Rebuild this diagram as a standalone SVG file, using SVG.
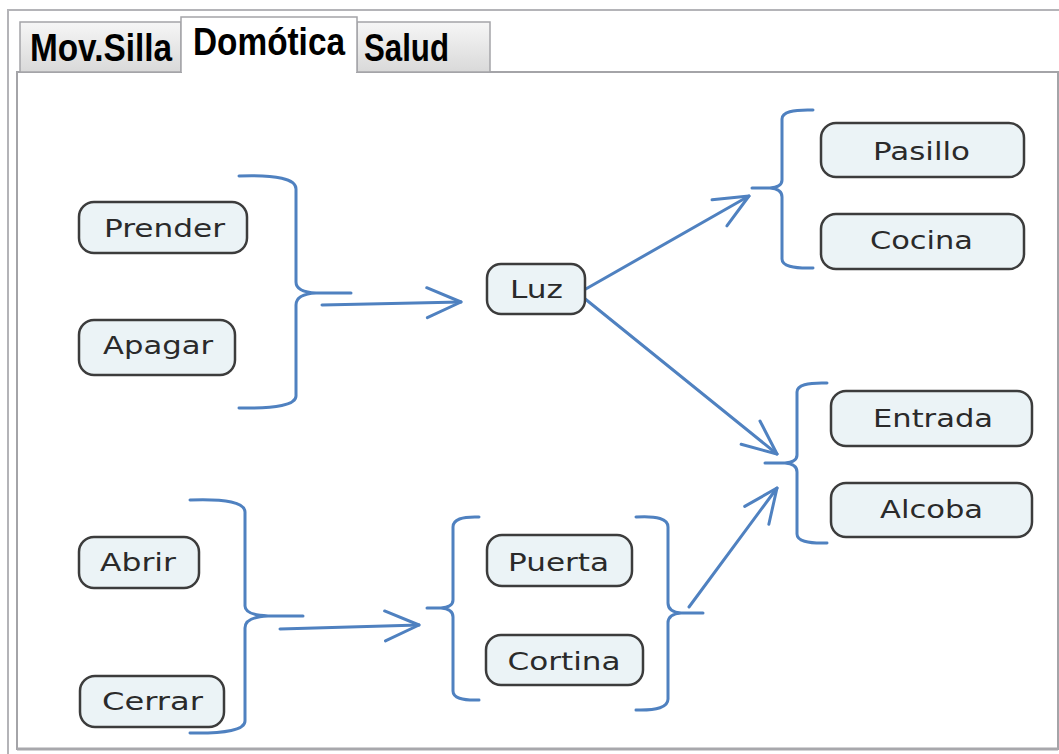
<svg xmlns="http://www.w3.org/2000/svg" width="1059" height="754" viewBox="0 0 1059 754">
<defs>
<linearGradient id="tabg" x1="0" y1="0" x2="0" y2="1">
<stop offset="0" stop-color="#f6f6f6"/>
<stop offset="1" stop-color="#d9d9d9"/>
</linearGradient>
<marker id="ah" markerUnits="userSpaceOnUse" markerWidth="50" markerHeight="40" viewBox="-40 -20 50 40" refX="0" refY="0" orient="auto">
<path d="M-34,-15 L0,0 L-34,15" fill="none" stroke="#4f81c0" stroke-width="3" stroke-linecap="round" stroke-linejoin="round"/>
</marker>
<style>
.frame{fill:none;stroke:#b4b4b8;stroke-width:2}
.tab{fill:url(#tabg);stroke:#a4a4a8;stroke-width:1.5}
.tabtxt{font-family:"Liberation Sans",Arial,sans-serif;font-weight:bold;font-size:39px;fill:#000}
.node rect{fill:#ebf3f6;stroke:#3c3c3c;stroke-width:2.5}
.node text{font-family:"DejaVu Sans",Verdana,sans-serif;font-size:24px;fill:#2a2a2a;text-anchor:middle}
.br{fill:none;stroke:#4f81c0;stroke-width:3;stroke-linecap:round;stroke-linejoin:round}
.arr{fill:none;stroke:#4f81c0;stroke-width:3;stroke-linecap:round;marker-end:url(#ah)}
</style>
</defs>
<rect width="1059" height="754" fill="#ffffff"/>
<g id="window">
<path class="frame" d="M8,754 L8,10 L1059,10"/>
<rect x="17" y="72" width="1041" height="677" fill="#ffffff" stroke="#a4a4a8" stroke-width="2"/>
<line x1="17" y1="749" x2="1058" y2="749" stroke="#a8a8ac" stroke-width="3"/>
</g>
<g id="tabs">
<rect class="tab" x="20" y="22" width="161" height="50"/>
<rect class="tab" x="357" y="22" width="133" height="50"/>
<path d="M181,72 L181,17 L357,17 L357,72" fill="#ffffff" stroke="#a4a4a8" stroke-width="1.5"/>
<line x1="182" y1="72.5" x2="356" y2="72.5" stroke="#ffffff" stroke-width="2"/>
<text class="tabtxt" x="30" y="61" textLength="142" lengthAdjust="spacingAndGlyphs">Mov.Silla</text>
<text class="tabtxt" x="193" y="55" textLength="152" lengthAdjust="spacingAndGlyphs">Domótica</text>
<text class="tabtxt" x="364" y="61" textLength="85" lengthAdjust="spacingAndGlyphs">Salud</text>
</g>
<g id="connectors">
<path class="br" d="M239,176 Q296,174 296,189 L296,282 Q296,292 316,293 L351,293 M316,293 Q296,294 296,305 L296,396 Q296,409 239,408"/>
<path class="arr" d="M322,305 L461,302"/>
<path class="br" d="M190,500 Q245,498 245,512 L245,606 Q245,615 268,616 L303,616 M268,616 Q245,617 245,628 L245,721 Q245,734 190,733"/>
<path class="arr" d="M280,629 L419,625"/>
<path class="br" d="M479,517 Q453,516 453,527 L453,600 Q453,607 441,608 L427,608 M441,608 Q453,609 453,617 L453,691 Q453,701 479,700"/>
<path class="br" d="M636,517 Q668,515 668,527 L668,603 Q668,612 681,613 L703,613 M681,613 Q668,614 668,623 L668,699 Q668,711 636,710"/>
<path class="arr" d="M689,607 L777,488"/>
<path class="br" d="M813,110 Q782,109 782,119 L782,180 Q782,187 770,188 L752,188 M770,188 Q782,189 782,197 L782,259 Q782,269 813,268"/>
<path class="br" d="M827,383 Q797,382 797,392 L797,455 Q797,462 785,463 L765,463 M785,463 Q797,464 797,472 L797,534 Q797,544 827,543"/>
<path class="arr" d="M584,290 L749,196"/>
<path class="arr" d="M584,298 L777,454"/>
</g>
<g id="n-prender" class="node"><rect x="79" y="202" width="168" height="51" rx="15"/><text x="164.5" y="237" textLength="121" lengthAdjust="spacingAndGlyphs">Prender</text></g>
<g id="n-apagar" class="node"><rect x="79" y="320" width="156" height="55" rx="15"/><text x="158" y="354" textLength="110" lengthAdjust="spacingAndGlyphs">Apagar</text></g>
<g id="n-luz" class="node"><rect x="487" y="264" width="98" height="50" rx="14"/><text x="536.5" y="298" textLength="53" lengthAdjust="spacingAndGlyphs">Luz</text></g>
<g id="n-pasillo" class="node"><rect x="821" y="123" width="203" height="54" rx="15"/><text x="921.5" y="160" textLength="97" lengthAdjust="spacingAndGlyphs">Pasillo</text></g>
<g id="n-cocina" class="node"><rect x="821" y="214" width="203" height="55" rx="15"/><text x="921.5" y="249" textLength="103" lengthAdjust="spacingAndGlyphs">Cocina</text></g>
<g id="n-entrada" class="node"><rect x="831" y="391" width="201" height="55" rx="15"/><text x="933" y="427" textLength="120" lengthAdjust="spacingAndGlyphs">Entrada</text></g>
<g id="n-alcoba" class="node"><rect x="831" y="483" width="201" height="54" rx="15"/><text x="931.5" y="518" textLength="103" lengthAdjust="spacingAndGlyphs">Alcoba</text></g>
<g id="n-abrir" class="node"><rect x="79" y="537" width="120" height="51" rx="15"/><text x="138" y="571" textLength="76" lengthAdjust="spacingAndGlyphs">Abrir</text></g>
<g id="n-cerrar" class="node"><rect x="80" y="676" width="144" height="51" rx="15"/><text x="152.5" y="710" textLength="101" lengthAdjust="spacingAndGlyphs">Cerrar</text></g>
<g id="n-puerta" class="node"><rect x="487" y="535" width="145" height="51" rx="15"/><text x="558.5" y="571" textLength="101" lengthAdjust="spacingAndGlyphs">Puerta</text></g>
<g id="n-cortina" class="node"><rect x="486" y="635" width="157" height="50" rx="15"/><text x="564" y="670" textLength="113" lengthAdjust="spacingAndGlyphs">Cortina</text></g>
</svg>
